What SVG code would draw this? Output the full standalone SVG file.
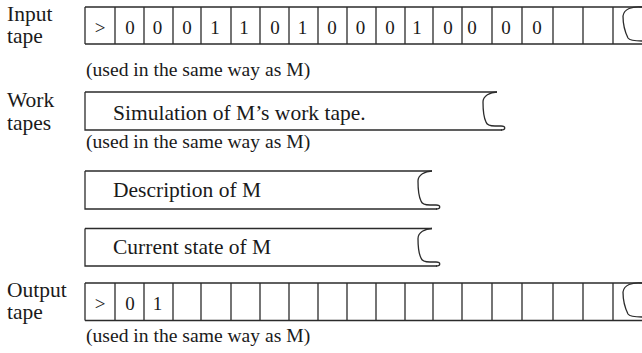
<svg xmlns="http://www.w3.org/2000/svg" width="642" height="353" viewBox="0 0 642 353">
  <style>
    .ln { fill: none; stroke: #2b2b2b; stroke-width: 1.3; }
    .lbl { font-family: "Liberation Serif", "Times New Roman", serif; font-size: 21.5px; fill: #1a1a1a; }
    .txt { font-family: "Liberation Serif", "Times New Roman", serif; font-size: 21.5px; fill: #1a1a1a; }
    .cap { font-family: "Liberation Serif", "Times New Roman", serif; font-size: 19.6px; fill: #1a1a1a; }
    .dg { font-family: "Liberation Serif", "Times New Roman", serif; font-size: 19px; fill: #1a1a1a; text-anchor: middle; }
  </style>
  <rect width="642" height="353" fill="#ffffff"/>

  <g id="input-label">
    <text class="lbl" x="7" y="21">Input</text>
    <text class="lbl" x="7" y="43">tape</text>
  </g>

  <g id="input-tape">
    <path class="ln" d="M85,7 H642 M85,44 H642 M85,7 V44"/>
    <path class="ln" d="M115,7V44 M144,7V44 M173,7V44 M201,7V44 M231,7V44 M260,7V44 M289,7V44 M318,7V44 M347,7V44 M376,7V44 M405,7V44 M433,7V44 M462,7V44 M492,7V44 M522,7V44 M553,7V44 M583,7V44 M613,7V44"/>
    <path class="ln" d="M642,7 C632,6 624,9 623,16 C623,24 625,32 628,38 C630,41 636,41 642,41"/>
    <text class="dg" x="100" y="33.5">&gt;</text>
    <text class="dg" x="130" y="33.5">0</text>
    <text class="dg" x="157.5" y="33.5">0</text>
    <text class="dg" x="187" y="33.5">0</text>
    <text class="dg" x="215" y="33.5">1</text>
    <text class="dg" x="244" y="33.5">1</text>
    <text class="dg" x="275" y="33.5">0</text>
    <text class="dg" x="302.5" y="33.5">1</text>
    <text class="dg" x="332" y="33.5">0</text>
    <text class="dg" x="360.5" y="33.5">0</text>
    <text class="dg" x="390" y="33.5">0</text>
    <text class="dg" x="417" y="33.5">1</text>
    <text class="dg" x="448" y="33.5">0</text>
    <text class="dg" x="472" y="33.5">0</text>
    <text class="dg" x="506" y="33.5">0</text>
    <text class="dg" x="537" y="33.5">0</text>
  </g>

  <g id="input-caption">
    <text class="cap" x="86" y="75.5">(used in the same way as M)</text>
  </g>

  <g id="work-label">
    <text class="lbl" x="7" y="107">Work</text>
    <text class="lbl" x="7" y="129.5">tapes</text>
  </g>

  <g id="work-tape-simulation">
    <path class="ln" d="M85,92 H497 M85,92 V130 H502"/>
    <path class="ln" d="M497,92 C490,92 483,96 483,102 C483,111 484,118 486,122 C487,125.5 490,126 495,126 L501,126 C506,126 506,130 501,130"/>
    <text class="txt" x="113" y="119.5">Simulation of M’s work tape.</text>
  </g>

  <g id="work-caption">
    <text class="cap" x="86" y="148.3">(used in the same way as M)</text>
  </g>

  <g id="work-tape-description">
    <path class="ln" d="M85,171 H432 M85,171 V209 H437"/>
    <path class="ln" d="M432,171 C425,171 418,175 418,181 C418,190 419,197 421,201 C422,204.5 425,205 430,205 L436,205 C441,205 441,209 436,209"/>
    <text class="txt" x="113" y="197.3">Description of M</text>
  </g>

  <g id="work-tape-state">
    <path class="ln" d="M85,228.5 H432 M85,228.5 V266 H437"/>
    <path class="ln" d="M432,228.5 C425,228.5 418,232.5 418,238.5 C418,247.5 419,254 421,258 C422,261.5 425,262 430,262 L436,262 C441,262 441,266 436,266"/>
    <text class="txt" x="113" y="254.3">Current state of M</text>
  </g>

  <g id="output-label">
    <text class="lbl" x="7" y="297.3">Output</text>
    <text class="lbl" x="7" y="319.3">tape</text>
  </g>

  <g id="output-tape">
    <path class="ln" d="M85,283 H642 M85,320.5 H642 M85,283 V320.5"/>
    <path class="ln" d="M115,283V320.5 M144,283V320.5 M173,283V320.5 M201,283V320.5 M231,283V320.5 M260,283V320.5 M289,283V320.5 M318,283V320.5 M347,283V320.5 M376,283V320.5 M405,283V320.5 M433,283V320.5 M462,283V320.5 M492,283V320.5 M522,283V320.5 M553,283V320.5 M583,283V320.5 M613,283V320.5"/>
    <path class="ln" d="M642,283 C632,282 624,285 623,292 C623,300 625,308 628,314 C630,317 636,317 642,317"/>
    <text class="dg" x="100" y="309.5">&gt;</text>
    <text class="dg" x="130" y="309.5">0</text>
    <text class="dg" x="157.5" y="309.5">1</text>
  </g>

  <g id="output-caption">
    <text class="cap" x="86" y="342.3">(used in the same way as M)</text>
  </g>

  <g id="connectors"></g>
</svg>
